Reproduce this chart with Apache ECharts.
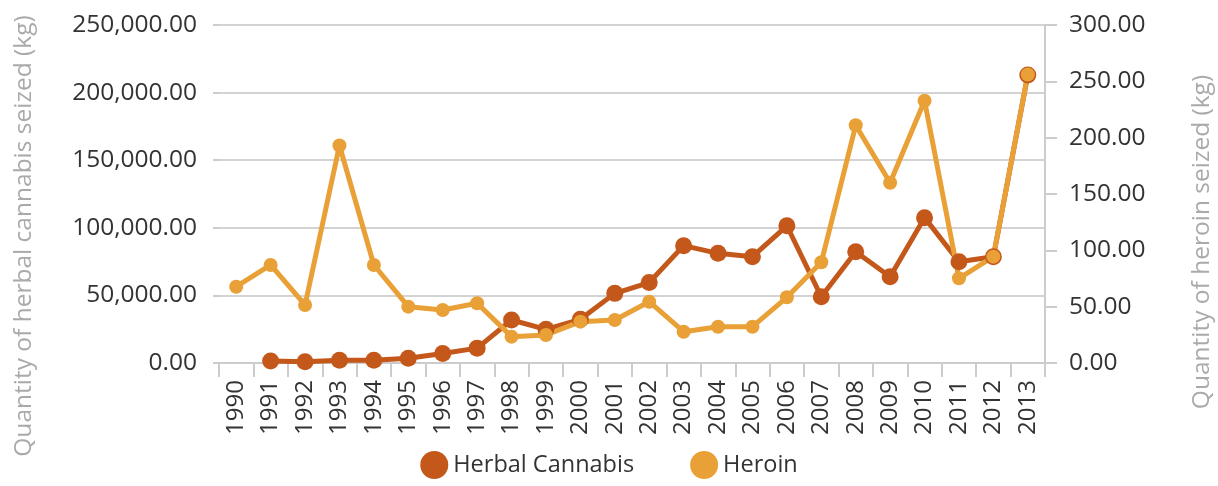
<!DOCTYPE html>
<html>
<head>
<meta charset="utf-8">
<script src="https://cdn.jsdelivr.net/npm/echarts@6/dist/echarts.min.js"></script>
<style>
  html, body { margin: 0; padding: 0; background: #fff; }
  #chart { width: 1218px; height: 486px; }
</style>
</head>
<body>
<div id="chart"></div>
<script>
// 数据
const years = ["1990", "1991", "1992", "1993", "1994", "1995", "1996", "1997", "1998", "1999",
  "2000", "2001", "2002", "2003", "2004", "2005", "2006", "2007", "2008", "2009",
  "2010", "2011", "2012", "2013"];
const cannabis = [null, 1500, 1000, 2000, 2000, 3500, 7000, 11000, 31800, 24900,
  32300, 51500, 59500, 86800, 81100, 78600, 101500, 49000, 82300, 63800,
  107500, 74900, 78600, 213000];
const heroin = [67.7, 87, 51.5, 193, 87, 50, 47, 53, 23.4, 24.9,
  36.7, 38.2, 54.4, 27.8, 32.2, 32.2, 58.3, 89.4, 211, 160,
  232.8, 75.2, 94.4, 256];

const leftTicks = { min: 0, max: 250000, interval: 50000 };
const rightTicks = { min: 0, max: 300, interval: 50 };

const font = "Open Sans";
const fmt = (v) => v.toLocaleString("en-US", { minimumFractionDigits: 2, maximumFractionDigits: 2 });

const chart = echarts.init(document.getElementById("chart"));
const option = {
  animation: false,
  textStyle: { fontFamily: font },
  grid: { left: 219, right: 173, top: 25, bottom: 123, outerBoundsMode: "none" },
  legend: {
    bottom: 2,
    left: "center",
    icon: "circle",
    itemWidth: 28,
    itemHeight: 28,
    itemGap: 56,
    textStyle: { fontFamily: font, fontSize: 23.5, color: "#333" },
    data: ["Herbal Cannabis", "Heroin"]
  },
  xAxis: {
    type: "category",
    data: years,
    boundaryGap: true,
    axisLine: { lineStyle: { color: "#ccc", width: 2 } },
    axisTick: { show: true, length: 14, lineStyle: { color: "#ccc", width: 2 } },
    axisLabel: { rotate: 90, margin: 17, fontFamily: font, fontSize: 24, color: "#333", interval: 0 }
  },
  yAxis: [
    {
      type: "value",
      min: leftTicks.min,
      max: leftTicks.max,
      interval: leftTicks.interval,
      name: "Quantity of herbal cannabis seized (kg)",
      nameLocation: "middle",
      nameGap: 182,
      nameTextStyle: { fontFamily: font, fontSize: 24.5, color: "#aaa", padding: [0, 84, 0, 0] },
      axisLine: { show: false },
      axisTick: { show: true, length: 6, lineStyle: { color: "#ccc", width: 2 } },
      axisLabel: { margin: 22, fontFamily: font, fontSize: 24.5, color: "#333", formatter: fmt },
      splitLine: { lineStyle: { color: "#d3d3d3", width: 2 } }
    },
    {
      type: "value",
      min: rightTicks.min,
      max: rightTicks.max,
      interval: rightTicks.interval,
      name: "Quantity of heroin seized (kg)",
      nameLocation: "middle",
      nameGap: 145,
      nameTextStyle: { fontFamily: font, fontSize: 24.5, color: "#aaa", padding: [0, 96, 0, 0] },
      axisLine: { show: true, lineStyle: { color: "#ccc", width: 2 } },
      axisTick: { show: true, length: 12, lineStyle: { color: "#ccc", width: 2 } },
      axisLabel: { margin: 24, fontFamily: font, fontSize: 24.5, color: "#333", formatter: fmt },
      splitLine: { show: false }
    }
  ],
  series: [
    {
      name: "Herbal Cannabis",
      type: "line",
      yAxisIndex: 0,
      data: cannabis,
      symbol: "circle",
      symbolSize: 17,
      itemStyle: { color: "#C4581A" },
      lineStyle: { color: "#C4581A", width: 5 }
    },
    {
      name: "Heroin",
      type: "line",
      yAxisIndex: 1,
      data: heroin,
      symbol: "circle",
      symbolSize: 14,
      itemStyle: { color: "#E8A037" },
      lineStyle: { color: "#E8A037", width: 5 }
    }
  ]
};
chart.setOption(option);
</script>
</body>
</html>
